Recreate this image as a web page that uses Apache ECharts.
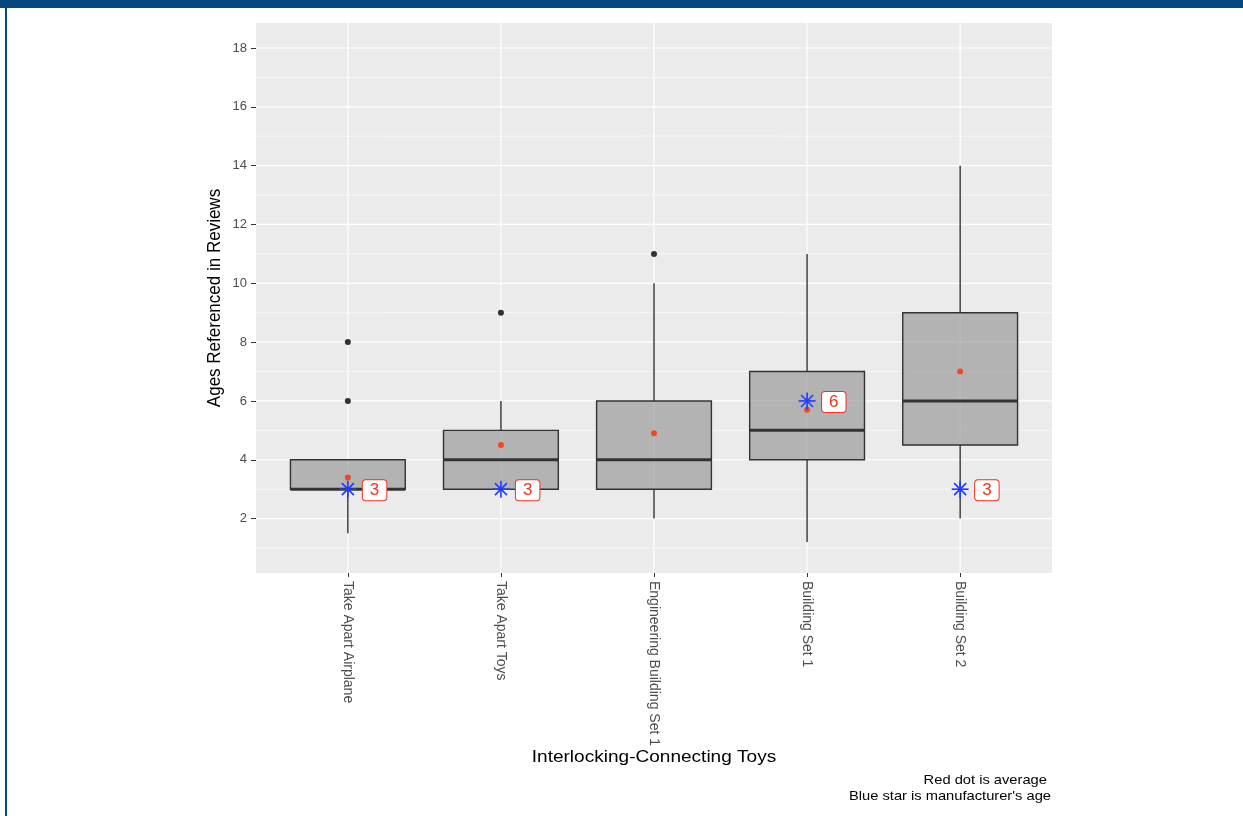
<!DOCTYPE html>
<html>
<head>
<meta charset="utf-8">
<script src="https://cdn.jsdelivr.net/npm/echarts@6/dist/echarts.min.js"></script>
<style>
html,body{margin:0;padding:0;background:#fff;}
#chart{width:1243px;height:816px;}
</style>
</head>
<body>
<div id="chart"></div>
<script>
const categories = ['Take Apart Airplane', 'Take Apart Toys', 'Engineering Building Set 1', 'Building Set 1', 'Building Set 2'];
const whiskerLow = [1.5, 3, 2, 1.2, 2];
const q1 = [3, 3, 3, 4, 4.5];
const median = [3, 4, 4, 5, 6];
const q3 = [4, 5, 6, 7, 9];
const whiskerHigh = [4, 6, 10, 11, 14];
const outliers = [[1, 6], [1, 8], [2, 9], [3, 11]];
const means = [3.4, 4.5, 4.9, 5.7, 7.0];
const manufacturerAge = [3, 3, null, 6, 3];
const yTicks = [2, 4, 6, 8, 10, 12, 14, 16, 18];
const yMinor = [1, 3, 5, 7, 9, 11, 13, 15, 17];
const xTicks = [1, 2, 3, 4, 5];
const yTitle = 'Ages Referenced in Reviews';
const xTitle = 'Interlocking-Connecting Toys';
const caption = ['Red dot is average ', "Blue star is manufacturer's age"];

const FONT = '"Liberation Sans", Arial, Helvetica, sans-serif';
const chart = echarts.init(document.getElementById('chart'), null, {renderer: 'canvas'});

const boxData = categories.map((c, i) => [i + 1, whiskerLow[i], q1[i], median[i], q3[i], whiskerHigh[i]]);
const meanData = means.map((m, i) => [i + 1, m]);
const starData = [];
manufacturerAge.forEach((a, i) => { if (a !== null) starData.push([i + 1, a]); });

function hGrid(major) {
  return function (params, api) {
    const cs = params.coordSys;
    const y = api.coord([1, api.value(1)])[1];
    return {type: 'line', shape: {x1: cs.x, y1: y, x2: cs.x + cs.width, y2: y},
      style: {stroke: '#ffffff', lineWidth: major ? 1.2 : 0.6}, silent: true};
  };
}

const option = {
  animation: false,
  backgroundColor: '#ffffff',
  textStyle: {fontFamily: FONT},
  grid: {left: 256, top: 23, right: 191, bottom: 243, show: true, backgroundColor: '#EBEBEB', borderWidth: 0, containLabel: false},
  xAxis: {
    type: 'value', min: 0.4, max: 5.6,
    splitLine: {show: false},
    axisLine: {show: false},
    axisTick: {show: true, customValues: xTicks, length: 4, lineStyle: {color: '#333333', width: 1}},
    axisLabel: {show: true, customValues: xTicks, rotate: -90, margin: 8, fontSize: 14, color: '#4D4D4D', fontFamily: FONT,
      formatter: v => categories[Math.round(v) - 1] || ''}
  },
  yAxis: {
    type: 'value', min: 0.15, max: 18.85,
    splitLine: {show: false},
    axisLine: {show: false},
    axisTick: {show: true, customValues: yTicks, length: 5, lineStyle: {color: '#333333', width: 1}},
    axisLabel: {show: true, customValues: yTicks, margin: 9, fontSize: 13, color: '#4D4D4D', fontFamily: FONT}
  },
  series: [
    {type: 'custom', name: 'minorGrid', z: 1, silent: true, data: yMinor.map(v => [1, v]), encode: {x: 0, y: 1}, renderItem: hGrid(false)},
    {type: 'custom', name: 'majorGrid', z: 1, silent: true, data: yTicks.map(v => [1, v]), encode: {x: 0, y: 1}, renderItem: hGrid(true)},
    {type: 'custom', name: 'vGrid', z: 1, silent: true, data: xTicks.map(v => [v, 1]), encode: {x: 0, y: 1},
      renderItem: function (params, api) {
        const cs = params.coordSys;
        const x = api.coord([api.value(0), 1])[0];
        return {type: 'line', shape: {x1: x, y1: cs.y, x2: x, y2: cs.y + cs.height},
          style: {stroke: '#ffffff', lineWidth: 1.2}, silent: true};
      }},
    {type: 'custom', name: 'boxes', z: 3, data: boxData, encode: {x: 0, y: [1, 2, 3, 4, 5]},
      renderItem: function (params, api) {
        const x = api.value(0);
        const pLow = api.coord([x, api.value(1)]);
        const pQ1 = api.coord([x, api.value(2)]);
        const pMed = api.coord([x, api.value(3)]);
        const pQ3 = api.coord([x, api.value(4)]);
        const pHigh = api.coord([x, api.value(5)]);
        const hw = api.size([0.75, 0])[0] / 2;
        const cx = pQ1[0];
        const lineStyle = {stroke: '#333333', lineWidth: 1.4};
        return {type: 'group', children: [
          {type: 'line', shape: {x1: cx, y1: pLow[1], x2: cx, y2: pQ1[1]}, style: lineStyle},
          {type: 'line', shape: {x1: cx, y1: pQ3[1], x2: cx, y2: pHigh[1]}, style: lineStyle},
          {type: 'rect', shape: {x: cx - hw, y: pQ3[1], width: hw * 2, height: pQ1[1] - pQ3[1]},
            style: {fill: 'rgba(155,155,155,0.7)', stroke: '#333333', lineWidth: 1.4}},
          {type: 'line', shape: {x1: cx - hw, y1: pMed[1], x2: cx + hw, y2: pMed[1]}, style: {stroke: '#333333', lineWidth: 3}}
        ]};
      }},
    {type: 'scatter', name: 'outliers', z: 4, data: outliers, symbol: 'circle', symbolSize: 6,
      itemStyle: {color: '#000000'}, silent: true},
    {type: 'scatter', name: 'mean', z: 5, data: meanData, symbol: 'circle', symbolSize: 6,
      itemStyle: {color: '#FF2A00'}, silent: true},
    {type: 'custom', name: 'stars', z: 6, data: starData, encode: {x: 0, y: 1},
      renderItem: function (params, api) {
        const p = api.coord([api.value(0), api.value(1)]);
        const r = 8.5, d = 6;
        const st = {stroke: '#1F3BFF', lineWidth: 1.6};
        return {type: 'group', children: [
          {type: 'line', shape: {x1: p[0] - r, y1: p[1], x2: p[0] + r, y2: p[1]}, style: st},
          {type: 'line', shape: {x1: p[0], y1: p[1] - r, x2: p[0], y2: p[1] + r}, style: st},
          {type: 'line', shape: {x1: p[0] - d, y1: p[1] - d, x2: p[0] + d, y2: p[1] + d}, style: st},
          {type: 'line', shape: {x1: p[0] - d, y1: p[1] + d, x2: p[0] + d, y2: p[1] - d}, style: st},
          {type: 'text', x: p[0] + 15, y: p[1] + 1, style: {
            text: String(api.value(1)), fill: '#F0321E', font: '17px ' + FONT,
            align: 'left', verticalAlign: 'middle',
            backgroundColor: '#ffffff', borderColor: '#F0321E', borderWidth: 1, borderRadius: 3,
            padding: [2, 7, 1, 7]}}
        ]};
      }}
  ],
  graphic: [
    {type: 'rect', shape: {x: 0, y: 0, width: 1243, height: 8}, style: {fill: '#03497F'}, silent: true},
    {type: 'rect', shape: {x: 5, y: 0, width: 2, height: 816}, style: {fill: '#03497F'}, silent: true},
    {type: 'text', x: 215, y: 298, rotation: Math.PI / 2, scaleY: 1.1, style: {text: yTitle, font: '17px ' + FONT, fill: '#000000', align: 'center', verticalAlign: 'middle'}},
    {type: 'text', x: 654, y: 757, scaleX: 1.12, style: {text: xTitle, font: '17px ' + FONT, fill: '#000000', align: 'center', verticalAlign: 'middle'}},
    {type: 'text', x: 1051, y: 780, scaleX: 1.13, style: {text: caption[0], font: '13px ' + FONT, fill: '#000000', align: 'right', verticalAlign: 'middle'}},
    {type: 'text', x: 1051, y: 796, scaleX: 1.13, style: {text: caption[1], font: '13px ' + FONT, fill: '#000000', align: 'right', verticalAlign: 'middle'}}
  ]
};
chart.setOption(option);
</script>
</body>
</html>
